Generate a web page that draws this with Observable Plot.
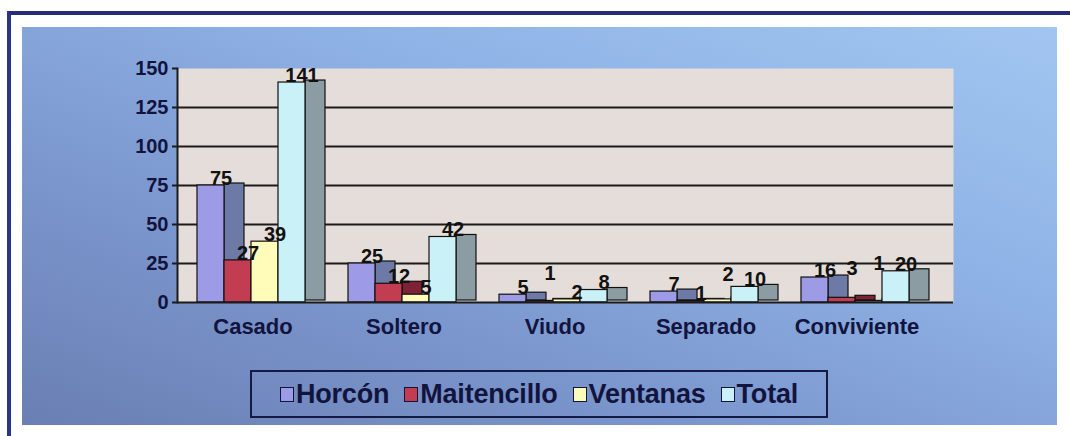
<!DOCTYPE html>
<html>
<head>
<meta charset="utf-8">
<script src="https://cdn.jsdelivr.net/npm/d3@7"></script>
<script src="https://cdn.jsdelivr.net/npm/@observablehq/plot@0.6"></script>
<style>
  html, body { margin: 0; padding: 0; background: #ffffff; }
  #wrap { position: relative; width: 1070px; height: 436px; overflow: hidden; background: #ffffff;
          font-family: "Liberation Sans", Arial, Helvetica, sans-serif; }
  #border { position: absolute; left: 7px; top: 11px; right: 0; bottom: 0;
            border-top: 4px solid #252c7c; border-left: 4px solid #2a3384; }
  #panel { position: absolute; left: 22px; top: 27px; width: 1035px; height: 398px;
           background: linear-gradient(to top right, #6a7fb3 0%, #7c98cf 35%, #8fb2e6 65%, #a2c6f0 100%); }
  #chart { position: absolute; left: 0; top: 0; }
  #legend { position: absolute; left: 250px; top: 370px; width: 578px; height: 48px; box-sizing: border-box;
            border: 2px solid #141a44; display: flex; align-items: center; justify-content: center; gap: 15px;
            font-weight: bold; font-size: 27px; color: #12143e; letter-spacing: -0.2px; }
  .item { display: flex; align-items: center; gap: 2px; }
  .sw { width: 12px; height: 13px; border: 1.5px solid #12143e; }
</style>
</head>
<body>
<div id="wrap">
  <div id="border"></div>
  <div id="panel"></div>
  <div id="chart"></div>
  <div id="legend"></div>
</div>
<script>
// ---- data ----
const categories = ["Casado", "Soltero", "Viudo", "Separado", "Conviviente"];
const seriesNames = ["Horcón", "Maitencillo", "Ventanas", "Total"];
const horcon = [75, 25, 5, 7, 16];
const maitencillo = [27, 12, 1, 1, 3];
const ventanas = [39, 5, 2, 2, 1];
const total = [141, 42, 8, 10, 20];
const yTicks = [0, 25, 50, 75, 100, 125, 150];
const gridValues = [25, 50, 75, 100, 125];

// ---- styles ----
const frontColors = ["#9d9be6", "#c23c52", "#fffbb8", "#c9f1f7"];
const sideColors = ["#6d7aa6", "#7c2234", "#b8b27a", "#8b9ca3"];
const ink = "#12143e";
const font = '"Liberation Sans", Arial, Helvetica, sans-serif';
// extra lift (px) of a few data labels, as in the original layout
const labelLift = {"Viudo|Maitencillo": 20, "Separado|Ventanas": 18, "Conviviente|Maitencillo": 22, "Conviviente|Ventanas": 30};

const seriesValues = [horcon, maitencillo, ventanas, total];
const rows = [];
seriesNames.forEach((s, j) => categories.forEach((c, i) => rows.push({category: c, series: s, j, value: seriesValues[j][i]})));

const band = 151, lead = 20, slot = 27, depth = 20;

const marks = [
  Plot.frame({fill: "#e4ddd9", stroke: "none"}),
  Plot.ruleY(gridValues, {stroke: "#1b1b1b", strokeWidth: 2})
];
// side faces (3D depth)
seriesNames.forEach((s, j) => {
  marks.push(Plot.barY(rows.filter(d => d.j === j), {
    x: "category", y: "value", fill: sideColors[j], stroke: "#111", strokeWidth: 1.2,
    insetLeft: lead + slot * (j + 1), insetRight: band - (lead + slot * (j + 1) + depth), dy: -2
  }));
});
// front faces
seriesNames.forEach((s, j) => {
  marks.push(Plot.barY(rows.filter(d => d.j === j), {
    x: "category", y: "value", fill: frontColors[j], stroke: "#111", strokeWidth: 1.2,
    insetLeft: lead + slot * j, insetRight: band - (lead + slot * (j + 1))
  }));
});
marks.push(Plot.ruleY([0], {stroke: "#1b1b1b", strokeWidth: 2}));
marks.push(Plot.frame({anchor: "left", stroke: "#1b1b1b", strokeWidth: 2}));
marks.push(Plot.axisY({ticks: yTicks, tickSize: 5, tickPadding: 4, tickFormat: d => String(d),
  fontSize: 20, fontWeight: "bold", fill: ink, stroke: "#1b1b1b", strokeWidth: 2, label: null}));
marks.push(Plot.axisX({tickSize: 0, tickPadding: 16, fontSize: 22, fontWeight: "bold", fill: ink, label: null}));
// value labels
rows.forEach(d => {
  marks.push(Plot.text([d], {
    x: "category", y: "value", text: r => String(r.value),
    dx: lead + slot * d.j + slot / 2 + 10 - band / 2,
    dy: -7 - (labelLift[d.category + "|" + d.series] || 0),
    fontSize: 20, fontWeight: "bold", fill: "#111"
  }));
});

const chart = Plot.plot({
  width: 1070,
  height: 350,
  marginLeft: 177,
  marginRight: 117,
  marginTop: 68,
  marginBottom: 48,
  style: {background: "transparent", fontFamily: font},
  x: {domain: categories, range: [177, 932], padding: 0},
  y: {domain: [0, 150], nice: false},
  marks
});
document.getElementById("chart").appendChild(chart);

// legend
const legend = document.getElementById("legend");
seriesNames.forEach((s, j) => {
  const it = document.createElement("div");
  it.className = "item";
  const sw = document.createElement("div");
  sw.className = "sw";
  sw.style.background = frontColors[j];
  const t = document.createElement("span");
  t.textContent = s;
  it.appendChild(sw); it.appendChild(t);
  legend.appendChild(it);
});
</script>
</body>
</html>
